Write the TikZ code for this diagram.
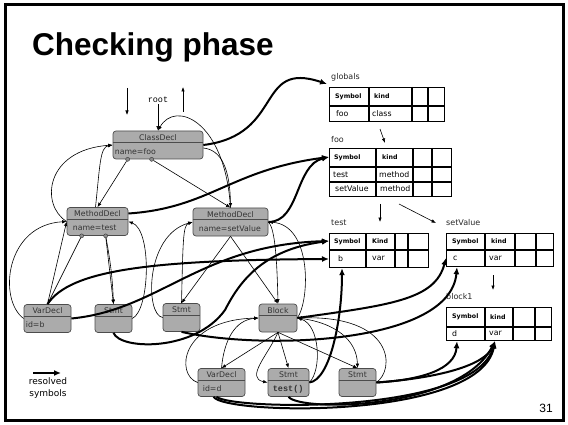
\documentclass[tikz,border=0pt]{standalone}
\usepackage{fontspec}
\setmainfont{DejaVu Sans}
\newfontfamily\titlefont{Liberation Sans}
\newfontfamily\codefont{Liberation Mono}
\usetikzlibrary{arrows.meta, positioning}

\begin{document}
\begin{tikzpicture}[
        x=1pt, y=-1pt,
        % Style for the AST nodes
        ast/.style={draw=black!70, fill=black!33, rounded corners=3pt, line width=0.7pt, minimum height=28pt, inner sep=0pt},
        asttitle/.style={anchor=base, yshift=-9.5pt, inner sep=0pt, font=\fontsize{7.8}{9}\selectfont, text=black!80},
        astbody/.style={anchor=base west, xshift=2pt, yshift=5pt, inner sep=0pt, font=\fontsize{7.8}{9}\selectfont, text=black!80},
        dot/.style={circle, draw=black!80, fill=black!45, inner sep=0pt, minimum size=4pt},
        % Style for the symbol tables
        tbl/.style={draw, line width=1.2pt, anchor=north west, inner sep=0pt},
        tabline/.style={line width=1.2pt},
        hcell/.style={anchor=west, inner sep=0pt, font=\fontsize{6.3}{7}\selectfont\bfseries},
        tcell/.style={anchor=west, inner sep=0pt, font=\fontsize{7.8}{9}\selectfont},
        tname/.style={anchor=west, inner sep=0pt, font=\fontsize{8}{9}\selectfont, text=black!85},
        % Style for the connectors
        link/.style={-{Latex[length=4.5pt,width=3.5pt]}, line width=0.6pt},
        resolved/.style={-{Latex[length=7pt,width=6pt]}, line width=2pt}
    ]
    \useasboundingbox (0,0) rectangle (568,425);
    \draw[line width=2.5pt] (5.5,4.5) rectangle (563.5,420.5);

    \node[anchor=base west, inner sep=0pt, font=\titlefont\bfseries\fontsize{31.5}{34}\selectfont] (heading) at (32,56) {Checking phase};
    \node[font=\titlefont\fontsize{12}{14}\selectfont] (pagenum) at (546,408) {31};

    % AST nodes
    \node[ast, minimum width=90pt, label={[asttitle]north:ClassDecl}, label={[astbody]south west:name=foo}] (classdecl) at (158,145) {};
    \node[ast, minimum width=61pt, label={[asttitle]north:MethodDecl}, label={[astbody, xshift=4pt]south west:name=test}] (mtest) at (97.5,221.5) {};
    \node[ast, minimum width=75pt, label={[asttitle]north:MethodDecl}, label={[astbody, xshift=4pt]south west:name=setValue}] (mset) at (230.5,222) {};
    \node[ast, minimum width=47pt, label={[asttitle]north:VarDecl}, label={[astbody]south west:id=b}] (vdb) at (47.5,318.5) {};
    \node[ast, minimum width=37pt, label={[asttitle]north:Stmt}] (stmta) at (113.5,318.5) {};
    \node[ast, minimum width=37pt, label={[asttitle]north:Stmt}] (stmtb) at (181.5,317.5) {};
    \node[ast, minimum width=38pt, label={[asttitle]north:Block}] (block) at (278,318) {};
    \node[ast, minimum width=47pt, label={[asttitle]north:VarDecl}, label={[astbody, xshift=3pt]south west:id=d}] (vdd) at (221.5,382.5) {};
    \node[ast, minimum width=41pt, label={[asttitle]north:Stmt}, label={[astbody, xshift=3pt, font=\codefont\bfseries\fontsize{8.5}{9}\selectfont]south west:test()}] (stmtc) at (288.5,382.5) {};
    \node[ast, minimum width=37pt, label={[asttitle]north:Stmt}] (stmtd) at (357.5,382.5) {};
    \foreach \n in {classdecl, mtest, mset, vdb, stmta, stmtb, block, vdd, stmtc, stmtd}
        \draw[black!70, line width=0.7pt] ([yshift=-12pt]\n.north west) -- ([yshift=-12pt]\n.north east);

    \node[dot] (cdot1) at ([xshift=15pt]classdecl.south west) {};
    \node[dot] (cdot2) at ([xshift=39pt]classdecl.south west) {};
    \node[dot] (mdot1) at ([xshift=15pt]mtest.south west) {};
    \node[dot] (mdot2) at ([xshift=39pt]mtest.south west) {};

    \node[font=\codefont\fontsize{8.5}{9}\selectfont, inner sep=1pt] (root) at (158,100) {root};
    \coordinate (downA) at (127,88);
    \coordinate (downB) at (127,115);
    \coordinate (upA) at (183,112);
    \coordinate (upB) at (183,87);

    % Symbol tables
    \node[tbl, minimum width=115pt, minimum height=34pt] (globals) at (329,87) {};
    \draw[tabline] ([yshift=-19pt]globals.north west) -- ([yshift=-19pt]globals.north east);
    \foreach \c in {40,83,99}
        \draw[tabline] ([xshift=\c pt]globals.north west) -- ([xshift=\c pt]globals.south west);
    \node[tname] (globals-name) at (331,77) {globals};
    \node[hcell] (globals-sym) at (335,96.5) {Symbol};
    \node[hcell] (globals-kind) at (374,96.5) {kind};
    \node[tcell] (globals-foo) at (336,113.5) {foo};
    \node[tcell] (globals-class) at (372,113.5) {class};

    \node[tbl, minimum width=122pt, minimum height=48pt] (tfoo) at (329,148) {};
    \draw[tabline] ([yshift=-19pt]tfoo.north west) -- ([yshift=-19pt]tfoo.north east);
    \draw[tabline] ([yshift=-34pt]tfoo.north west) -- ([yshift=-34pt]tfoo.north east);
    \foreach \c in {47,84,103}
        \draw[tabline] ([xshift=\c pt]tfoo.north west) -- ([xshift=\c pt]tfoo.south west);
    \node[tname] (tfoo-name) at (331,140) {foo};
    \node[hcell] (tfoo-sym) at (334,157.5) {Symbol};
    \node[hcell] (tfoo-kind) at (382,157.5) {kind};
    \node[tcell] (tfoo-test) at (333,174.5) {test};
    \node[tcell] (tfoo-m1) at (379,174.5) {method};
    \node[tcell] (tfoo-set) at (335,189) {setValue};
    \node[tcell] (tfoo-m2) at (380,189) {method};

    \node[tbl, minimum width=99pt, minimum height=34pt] (ttest) at (329,233) {};
    \draw[tabline] ([yshift=-17pt]ttest.north west) -- ([yshift=-17pt]ttest.north east);
    \foreach \c in {37,66,79}
        \draw[tabline] ([xshift=\c pt]ttest.north west) -- ([xshift=\c pt]ttest.south west);
    \node[tname] (ttest-name) at (331,223) {test};
    \node[hcell] (ttest-sym) at (334,241.5) {Symbol};
    \node[hcell] (ttest-kind) at (372,241.5) {Kind};
    \node[tcell] (ttest-b) at (338,258.5) {b};
    \node[tcell] (ttest-var) at (372,258.5) {var};

    \node[tbl, minimum width=107pt, minimum height=33pt] (tset) at (446,233) {};
    \draw[tabline] ([yshift=-17pt]tset.north west) -- ([yshift=-17pt]tset.north east);
    \foreach \c in {39,69,90}
        \draw[tabline] ([xshift=\c pt]tset.north west) -- ([xshift=\c pt]tset.south west);
    \node[tname] (tset-name) at (446,223) {setValue};
    \node[hcell] (tset-sym) at (452,241.5) {Symbol};
    \node[hcell] (tset-kind) at (491,241.5) {kind};
    \node[tcell] (tset-c) at (453,258) {c};
    \node[tcell] (tset-var) at (489,258) {var};

    \node[tbl, minimum width=105pt, minimum height=33pt] (tblock) at (446,307) {};
    \draw[tabline] ([yshift=-20pt]tblock.north west) -- ([yshift=-20pt]tblock.north east);
    \foreach \c in {39,67,89}
        \draw[tabline] ([xshift=\c pt]tblock.north west) -- ([xshift=\c pt]tblock.south west);
    \node[tname] (tblock-name) at (446,297) {block1};
    \node[hcell] (tblock-sym) at (452,317) {Symbol};
    \node[hcell] (tblock-kind) at (490,317) {kind};
    \node[tcell] (tblock-d) at (452,333.5) {d};
    \node[tcell] (tblock-var) at (489,333.5) {var};

    \coordinate (gfA) at (380,129);
    \coordinate (gfB) at (385,143);
    \coordinate (ftA) at (380,204);
    \coordinate (ftB) at (380,222);
    \coordinate (fsA) at (399,204);
    \coordinate (fsB) at (436,223);
    \coordinate (sbA) at (493,275);
    \coordinate (sbB) at (493,290);

    % Legend
    \coordinate (legA) at (33,373);
    \coordinate (legB) at (61,373);
    \node[align=center, inner sep=0pt, font=\fontsize{9}{12.5}\selectfont] (legend) at (48,388) {resolved\\symbols};

    % Child and parent links
    \draw[link] (root.south) -- (classdecl.north);
    \draw[link] (downA) -- (downB);
    \draw[link] (upA) -- (upB);
    \draw[link] (cdot1) -- (mtest.north);
    \draw[link] (cdot2) -- (mset.north);
    \draw[link] ([xshift=-2pt]mtest.north) .. controls (100,165) and (100,147) .. (classdecl.west);
    \draw[link] (mtest.west) .. controls (40,205) and (45,150) .. (classdecl.west);
    \draw[link] (mset.north) .. controls (225,120) and (175,100) .. (classdecl.north);
    \draw[link] ([yshift=-3pt]classdecl.east) .. controls (222,150) and (230,170) .. (mset.north);

    \draw[link] (mdot1) -- (vdb.north);
    \draw[link] (mdot2) -- (stmta.north);
    \draw[link] (mdot2) to[bend left=4] (stmta.north);
    \draw[link] (vdb.north) -- (mtest.west);
    \draw[link] (vdb.west) .. controls (-2,300) and (5,225) .. (mtest.west);
    \draw[link] (stmta.east) .. controls (150,310) and (152,230) .. (mtest.east);

    \draw[link] (mset.south) -- (stmtb.north);
    \draw[link] (mset.south) -- (block.north);
    \draw[link] (stmtb.north) .. controls (183,240) and (183,225) .. (mset.west);
    \draw[link] (stmtb.west) .. controls (145,315) and (145,235) .. (mset.west);
    \draw[link] (mset.east) .. controls (275,228) and (277,260) .. (block.north);
    \draw[link] (block.east) .. controls (310,300) and (312,225) .. (mset.east);

    \draw[link] (block.south) -- (vdd.north);
    \draw[link] (block.south) -- (stmtc.north);
    \draw[link] (block.south) -- (stmtd.north);
    \draw[link] (vdd.north) .. controls (224,340) and (235,320) .. (block.west);
    \draw[link] (vdd.west) .. controls (175,375) and (180,320) .. (block.west);
    \draw[link] (block.south) .. controls (268,355) and (245,378) .. (stmtc.west);
    \draw[link] (stmtc.east) .. controls (322,370) and (320,325) .. (block.east);
    \draw[link] (block.east) .. controls (335,322) and (357,340) .. (stmtd.north);
    \draw[link] (stmtd.east) .. controls (395,370) and (395,315) .. (block.east);

    % Arrows between the tables
    \draw[link] (gfA) -- (gfB);
    \draw[link] (ftA) -- (ftB);
    \draw[link] (fsA) -- (fsB);
    \draw[link] (sbA) -- (sbB);

    % Resolved symbols
    \draw[resolved] (legA) -- (legB);
    \draw[resolved] (classdecl.east) .. controls (285,135) and (255,60) .. ([xshift=-2pt,yshift=3pt]globals.north west);
    \draw[resolved] ([yshift=8pt]mtest.east) .. controls (210,208) and (230,170) .. ([yshift=-9pt]tfoo.north west);
    \draw[resolved] (mset.east) .. controls (300,222) and (295,165) .. ([yshift=-9pt]tfoo.north west);
    \draw[resolved] (vdb.north) .. controls (70,270) and (150,260) .. ([yshift=-26pt]ttest.north west);
    \draw[resolved] (vdb.east) .. controls (160,310) and (200,245) .. ([yshift=-8pt]ttest.north west);
    \draw[resolved] (stmta.south) .. controls (120,350) and (195,352) .. (225,310) .. controls (238,285) and (260,250) .. ([yshift=-8pt]ttest.north west);
    \draw[resolved] (stmtc.east) .. controls (330,380) and (342,320) .. ([xshift=13pt]ttest.south west);
    \draw[resolved] (block.east) .. controls (390,305) and (435,300) .. ([yshift=-25pt]tset.north west);
    \draw[resolved] (stmtb.south) .. controls (260,350) and (450,345) .. ([xshift=11pt]tset.south west);
    \draw[resolved] (stmtd.east) .. controls (420,380) and (455,370) .. ([xshift=11pt]tblock.south west);
    \draw[resolved] (stmtd.east) .. controls (440,378) and (485,365) .. ([xshift=49pt]tblock.south west);
    \draw[resolved] ([xshift=-8pt]vdd.south) .. controls (225,415) and (480,420) .. ([xshift=49pt]tblock.south west);
    \draw[resolved] ([xshift=-5pt]vdd.south) .. controls (232,410) and (475,415) .. ([xshift=49pt]tblock.south west);
    \draw[resolved] (stmtc.south) .. controls (300,412) and (460,410) .. ([xshift=49pt]tblock.south west);
\end{tikzpicture}
\end{document}
